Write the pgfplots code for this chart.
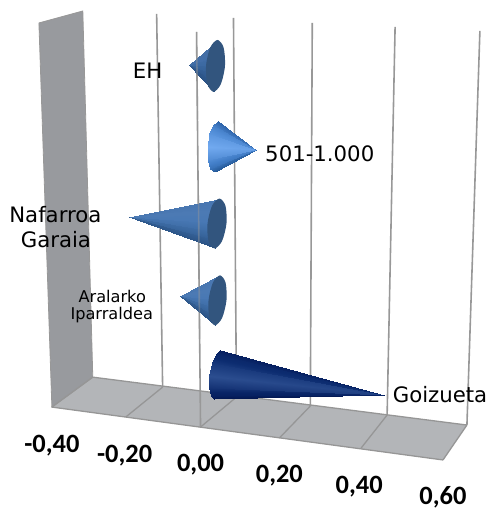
\documentclass[border=0pt]{standalone}
\usepackage{fontspec}
\setmainfont{DejaVu Sans}
\newfontfamily\tickfont{Carlito}
\usepackage{pgfplots}
\pgfplotsset{compat=1.18}
\definecolor{gridgrey}{RGB}{152,152,152}
\definecolor{floorgrey}{RGB}{150,150,150}
\definecolor{wallcol}{RGB}{152,154,158}
\definecolor{floorcol}{RGB}{179,181,184}
\definecolor{basecol}{RGB}{50,85,126}
% shading across each cone: edge - centre - edge
\pgfplotsset{
  colormap={coneeh}{rgb255=(68,110,164) rgb255=(66,110,168) rgb255=(58,104,160) rgb255=(50,92,146) rgb255=(42,82,132)},
  colormap={conemid}{rgb255=(72,118,176) rgb255=(76,122,180) rgb255=(72,120,180) rgb255=(58,104,160) rgb255=(42,82,132)},
  colormap={conelight}{rgb255=(44,98,168) rgb255=(80,140,214) rgb255=(114,170,240) rgb255=(66,126,200) rgb255=(36,88,150)},
  colormap={conedark}{rgb255=(6,30,94) rgb255=(12,44,112) rgb255=(44,78,144) rgb255=(8,36,102) rgb255=(2,22,80)},
  gridl/.style={color=gridgrey, line width=1.6pt},
  floorl/.style={color=floorgrey, line width=1.3pt},
  cone/.style={patch, patch type=triangle, shader=interp, point meta=explicit},
  base/.style={fill=basecol, draw=none, smooth cycle},
}
\begin{document}
% perspective chart: everything is placed in the picture's own pixel coordinates
\begin{tikzpicture}
\begin{axis}[
    scale only axis,
    width=489pt, height=511pt,
    xmin=0, xmax=489, ymin=0, ymax=511,
    y dir=reverse,
    hide axis,
    clip=false,
    point meta min=0, point meta max=1,
]
% keep the whole frame in the page
\path (rel axis cs:0,0) rectangle (rel axis cs:1,1);
% wall and floor
\addplot[fill=floorcol, draw=none] coordinates {(52,408) (93,378) (468,426) (444,461)} -- cycle;
\addplot[fill=wallcol, draw=gridgrey, line width=0.8pt] coordinates {(39,23) (83,11) (93,378) (52,408)} -- cycle;
% grid on the back wall
\addplot[gridl] coordinates {(157,14) (163,388)};
\addplot[gridl] coordinates {(234,18) (237,398)};
\addplot[gridl] coordinates {(313,23) (311,407)};
\addplot[gridl] coordinates {(396,27) (388,416)};
\addplot[gridl] coordinates {(481,31) (468,426)};
% grid on the floor
\addplot[floorl] coordinates {(93,378) (468,426)};
\addplot[floorl] coordinates {(52,408) (444,461)};
\addplot[floorl] coordinates {(468,426) (444,461)};
\addplot[floorl] coordinates {(93,378) (52,408)};
\addplot[floorl] coordinates {(163,388) (126,418)};
\addplot[floorl] coordinates {(237,398) (201,428)};
\addplot[floorl] coordinates {(311,407) (280,439)};
\addplot[floorl] coordinates {(388,416) (362,449)};
% zero line
\addplot[gridl] coordinates {(197,32) (201,428)};

% EH
\addplot[cone, colormap name=coneeh] table[meta=c] {
x y c
189 65 0.083
218 40 0
217.3 48.7 0.167
189 65 0.25
217.3 48.7 0.167
216.7 57.3 0.333
189 65 0.417
216.7 57.3 0.333
216 66 0.5
189 65 0.583
216 66 0.5
215.3 74.7 0.667
189 65 0.75
215.3 74.7 0.667
214.7 83.3 0.833
189 65 0.917
214.7 83.3 0.833
214 92 1
};
\addplot[base] coordinates {(218,40) (224.1,47.6) (225.5,66) (221.3,84.4) (214,92) (207.9,84.4) (206.5,66) (210.7,47.6)};

% 501-1.000
\addplot[cone, colormap name=conelight] table[meta=c] {
x y c
257 150 0.083
218 121 0
213.55 124.9 0.167
257 150 0.25
213.55 124.9 0.167
209.9 134.6 0.333
257 150 0.417
209.9 134.6 0.333
208 147.5 0.5
257 150 0.583
208 147.5 0.5
208.4 160.1 0.667
257 150 0.75
208.4 160.1 0.667
210.95 169.1 0.833
257 150 0.917
210.95 169.1 0.833
215 172 1
};

% Nafarroa Garaia
\addplot[cone, colormap name=conemid] table[meta=c] {
x y c
129 217 0.083
220 199 0
219.2 207.3 0.167
129 217 0.25
219.2 207.3 0.167
218.3 215.7 0.333
129 217 0.417
218.3 215.7 0.333
217.5 224 0.5
129 217 0.583
217.5 224 0.5
216.7 232.3 0.667
129 217 0.75
216.7 232.3 0.667
215.8 240.7 0.833
129 217 0.917
215.8 240.7 0.833
215 249 1
};
\addplot[base] coordinates {(220,199) (226,206.3) (227,224) (222.5,241.7) (215,249) (209,241.7) (208,224) (212.5,206.3)};

% Aralarko Iparraldea
\addplot[cone, colormap name=conemid] table[meta=c] {
x y c
180 297 0.083
220.5 276 0
219.6 284.3 0.167
180 297 0.25
219.6 284.3 0.167
218.8 292.7 0.333
180 297 0.417
218.8 292.7 0.333
218 301 0.5
180 297 0.583
218 301 0.5
217.2 309.3 0.667
180 297 0.75
217.2 309.3 0.667
216.3 317.7 0.833
180 297 0.917
216.3 317.7 0.833
215.5 326 1
};
\addplot[base] coordinates {(220.5,276) (226.1,283.3) (227,301) (222.6,318.7) (215.5,326) (209.9,318.7) (209,301) (213.4,283.3)};

% Goizueta
\addplot[cone, colormap name=conedark] table[meta=c] {
x y c
385 396 0.083
221 351 0
216.5 354.8 0.167
385 396 0.25
216.5 354.8 0.167
212.2 364.1 0.333
385 396 0.417
212.2 364.1 0.333
209.5 376.5 0.5
385 396 0.583
209.5 376.5 0.5
209 388.6 0.667
385 396 0.75
209 388.6 0.667
211 397.2 0.833
385 396 0.917
211 397.2 0.833
214 400 1
};

% zero line shows faintly through the cones
\addplot[gridl, opacity=0.45] coordinates {(197,32) (198,120)};
\addplot[gridl, opacity=0.45] coordinates {(199,200) (200,340)};

% category labels
\node[font=\fontsize{21.3}{24}\selectfont] at (axis cs:148,71) {EH};
\node[font=\fontsize{21.3}{24}\selectfont] at (axis cs:320.5,154) {501-1.000};
\node[font=\fontsize{21.3}{24}\selectfont] at (axis cs:55.5,215) {Nafarroa};
\node[font=\fontsize{21.3}{24}\selectfont] at (axis cs:56,240) {Garaia};
\node[font=\fontsize{16.2}{18}\selectfont] at (axis cs:112.5,297) {Aralarko};
\node[font=\fontsize{16.2}{18}\selectfont] at (axis cs:112,316) {Iparraldea};
\node[font=\fontsize{21.3}{24}\selectfont] at (axis cs:441,395) {Goizueta};
% value labels
\node[font=\tickfont\bfseries\fontsize{26.5}{30}\selectfont] at (axis cs:52,447) {-0,40};
\node[font=\tickfont\bfseries\fontsize{26.5}{30}\selectfont] at (axis cs:125,457) {-0,20};
\node[font=\tickfont\bfseries\fontsize{26.5}{30}\selectfont] at (axis cs:201,466) {0,00};
\node[font=\tickfont\bfseries\fontsize{26.5}{30}\selectfont] at (axis cs:280,477) {0,20};
\node[font=\tickfont\bfseries\fontsize{26.5}{30}\selectfont] at (axis cs:360,488) {0,40};
\node[font=\tickfont\bfseries\fontsize{26.5}{30}\selectfont] at (axis cs:444,498) {0,60};
\end{axis}
\end{tikzpicture}
\end{document}
